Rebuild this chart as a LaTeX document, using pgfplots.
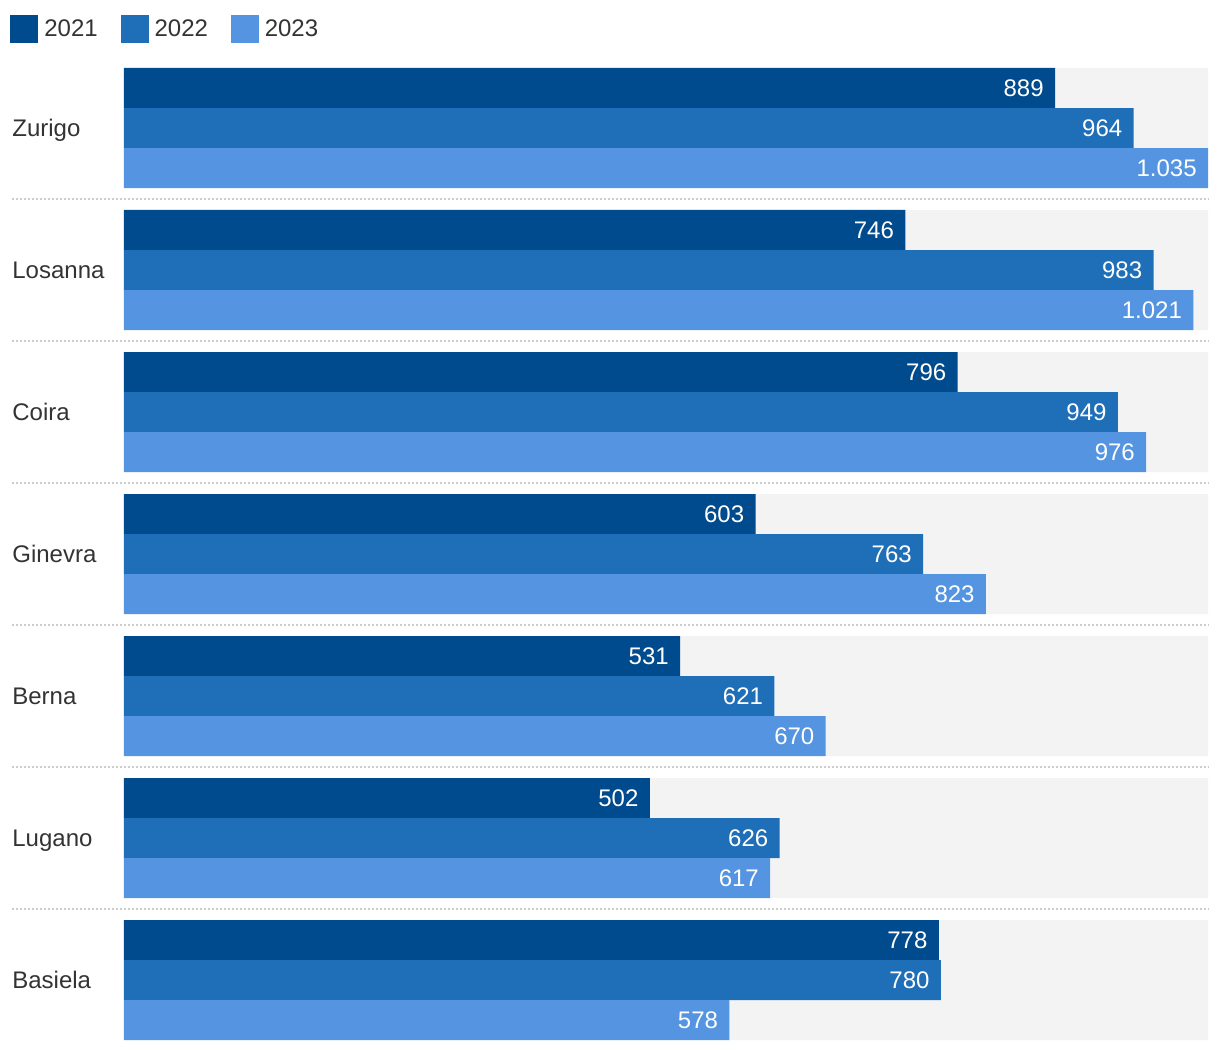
\documentclass[border=0pt]{standalone}
\usepackage{fontspec}
\setmainfont{Liberation Sans}
\usepackage{pgfplots}
\usepackage{pgfplotstable}
\pgfplotsset{compat=1.18}

\definecolor{c21}{HTML}{004B8D}
\definecolor{c22}{HTML}{1F6EB8}
\definecolor{c23}{HTML}{5494E1}
\definecolor{band}{HTML}{F3F3F3}
\definecolor{sepcol}{HTML}{CCCCCC}
\definecolor{txt}{HTML}{333333}

\newcommand{\lbl}{\fontsize{12pt}{14pt}\selectfont}

% pos = row of the city, top to bottom
\pgfplotstableread{
pos v21 v22 v23 full
0   889 964 1035 1035
1   746 983 1021 1035
2   796 949 976  1035
3   603 763 823  1035
4   531 621 670  1035
5   502 626 617  1035
6   778 780 578  1035
}\data

\begin{document}
\begin{tikzpicture}
\begin{axis}[
  scale only axis, width=542pt, height=486pt,
  xmin=0, xmax=1035, ymin=-0.42254, ymax=6.42254,
  y dir=reverse,
  clip=false,
  axis line style={draw=none},
  major tick length=0pt,
  xtick=\empty,
  ytick={0,...,6},
  yticklabels={Zurigo,Losanna,Coira,Ginevra,Berna,Lugano,Basiela},
  yticklabel style={anchor=base west, xshift=-56pt, yshift=-4.3pt,
    inner sep=0pt, text=txt, font=\lbl},
  xbar, bar width=0.28169,
  point meta=x,
  legend columns=-1,
  legend image code/.code={\fill[#1] (0pt,-7pt) rectangle (14pt,7pt);},
  legend style={draw=none, fill=none, inner sep=0pt,
    at={(axis description cs:0,1)}, anchor=west,
    xshift=-57pt, yshift=19.4pt, font=\lbl, text=txt,
    nodes={inner sep=0pt, inner xsep=3pt},
    /tikz/every even column/.append style={column sep=8.4pt}},
  every node near coord/.append style={anchor=east, inner sep=0pt,
    xshift=-5.5pt, text=white, font=\lbl},
]
  % grey band behind each city
  \addplot[xbar, bar width=0.84507, bar shift=0, fill=band, draw=none,
    forget plot] table[x=full, y=pos] {\data};

  \addplot[xbar, bar shift=-0.28169, fill=c21, draw=none,
    nodes near coords={\pgfmathprintnumber[1000 sep={.},assume math mode=true]{\pgfplotspointmeta}}]
    table[x=v21, y=pos] {\data};
  \addlegendentry{2021}
  \addplot[xbar, bar shift=0, fill=c22, draw=none,
    nodes near coords={\pgfmathprintnumber[1000 sep={.},assume math mode=true]{\pgfplotspointmeta}}]
    table[x=v22, y=pos] {\data};
  \addlegendentry{2022}
  \addplot[xbar, bar shift=0.28169, fill=c23, draw=none,
    nodes near coords={\pgfmathprintnumber[1000 sep={.},assume math mode=true]{\pgfplotspointmeta}}]
    table[x=v23, y=pos] {\data};
  \addlegendentry{2023}

  % dotted separators between cities
  \pgfplotsinvokeforeach{0.5,1.5,2.5,3.5,4.5,5.5}{
    \draw[sepcol, line width=0.6pt, dash pattern=on 1pt off 1pt]
      (axis cs:-107,#1) -- (axis cs:1035,#1);
  }
\end{axis}
\pgfresetboundingbox
\useasboundingbox ([xshift=-62pt,yshift=-6pt]current axis.south west)
  rectangle ([xshift=6pt,yshift=34pt]current axis.north east);
\end{tikzpicture}
\end{document}
